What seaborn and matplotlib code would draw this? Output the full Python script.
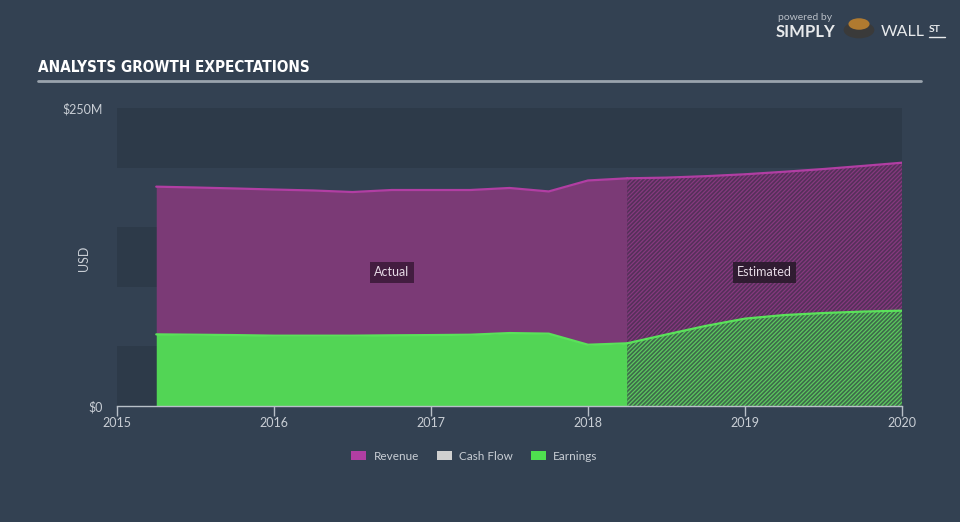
import numpy as np
import pandas as pd
import matplotlib
matplotlib.use("Agg")
import matplotlib.pyplot as plt
import seaborn as sns
from matplotlib.patches import Patch, Circle
from matplotlib.lines import Line2D
from matplotlib import font_manager

# ---------------- data (USD millions) ----------------
actual_dates = [2015.25, 2015.5, 2015.75, 2016.0, 2016.25, 2016.5, 2016.75,
                2017.0, 2017.25, 2017.5, 2017.75, 2018.0, 2018.25]
actual_revenue = [184.0, 183.3, 182.5, 181.6, 180.8, 179.5, 181.2,
                  181.2, 181.2, 182.9, 180.0, 189.2, 191.0]
actual_earnings = [60.1, 59.8, 59.5, 59.0, 59.0, 59.0, 59.3,
                   59.5, 59.8, 61.2, 60.7, 51.4, 52.6]

est_dates = [2018.25, 2018.5, 2018.75, 2019.0, 2019.25, 2019.5, 2019.75, 2020.0]
est_revenue = [191.0, 191.6, 192.8, 194.4, 196.5, 198.8, 201.4, 204.1]
est_earnings = [52.6, 60.0, 67.2, 73.3, 76.3, 78.0, 79.2, 80.0]

x_ticks = [2015, 2016, 2017, 2018, 2019, 2020]
x_tick_labels = ["2015", "2016", "2017", "2018", "2019", "2020"]
y_ticks = [0, 250]
y_tick_labels = ["$0", "$250M"]
band_edges = [0, 50, 100, 150, 200, 250]
legend_labels = ["Revenue", "Cash Flow", "Earnings"]

# ---------------- styling ----------------
BG = "#334152"
BAND = "#2d3a49"
REV_FILL = "#7b3a76"
REV_LINE = "#b13ea3"
EARN_FILL = "#52d555"
EARN_LINE = "#5ae25a"
CASH = "#d0d0d0"
TXT = "#c9ced5"

sns.set_theme(style="dark")
plt.rcParams["font.family"] = ["Lato", "DejaVu Sans"]
plt.rcParams["hatch.linewidth"] = 0.9

names = {f.name for f in font_manager.fontManager.ttflist}
title_family = ["DejaVu Sans"]
for cand in ["Liberation Sans Narrow", "DejaVu Sans Condensed"]:
    if cand in names:
        title_family = [cand, "DejaVu Sans"]
        break

actual_df = pd.DataFrame({"date": actual_dates, "revenue": actual_revenue,
                          "earnings": actual_earnings})
est_df = pd.DataFrame({"date": est_dates, "revenue": est_revenue,
                       "earnings": est_earnings})

fig = plt.figure(figsize=(9.6, 5.22), dpi=100, facecolor=BG)
ax = fig.add_axes([117 / 960, 1 - 406 / 522, (902 - 117) / 960, (406 - 108) / 522])
ax.set_facecolor(BG)

# alternating bands
for i in range(len(band_edges) - 1):
    if i % 2 == 0:
        ax.axhspan(band_edges[i], band_edges[i + 1], color=BAND, lw=0, zorder=0)

# actual areas
ax.fill_between(actual_df["date"], 0, actual_df["earnings"], color=EARN_FILL, lw=0, zorder=2)
ax.fill_between(actual_df["date"], actual_df["earnings"], actual_df["revenue"],
                color=REV_FILL, lw=0, zorder=2)

# estimated areas (hatched)
ax.fill_between(est_df["date"], est_df["earnings"], est_df["revenue"],
                facecolor="#55305a", edgecolor="#86397f", hatch="////////", lw=0, zorder=2)
ax.fill_between(est_df["date"], 0, est_df["earnings"],
                facecolor="#3e6a4b", edgecolor="#5cc95e", hatch="////////", lw=0, zorder=2)

# lines
sns.lineplot(data=actual_df, x="date", y="revenue", color=REV_LINE, lw=1.6, ax=ax, zorder=3)
sns.lineplot(data=est_df, x="date", y="revenue", color=REV_LINE, lw=1.6, ax=ax, zorder=3)
sns.lineplot(data=actual_df, x="date", y="earnings", color=EARN_LINE, lw=1.6, ax=ax, zorder=3)
sns.lineplot(data=est_df, x="date", y="earnings", color=EARN_LINE, lw=1.6, ax=ax, zorder=3)

ax.set_xlim(2015, 2020)
ax.set_ylim(0, 250)
ax.set_xlabel("")
ax.set_ylabel("")

ax.set_xticks(x_ticks)
ax.set_xticklabels(x_tick_labels)
ax.set_yticks(y_ticks)
ax.set_yticklabels(y_tick_labels)
ax.tick_params(axis="x", direction="out", length=7, width=1, color="#b8c0c8",
               colors=TXT, labelsize=9, pad=1, bottom=True)
ax.tick_params(axis="y", length=0, colors=TXT, labelsize=9, pad=10.5)
ax.grid(False)
for s in ["top", "right", "left"]:
    ax.spines[s].set_visible(False)
ax.spines["bottom"].set_color("#b8c0c8")
ax.spines["bottom"].set_linewidth(1)
ax.spines["bottom"].set_zorder(5)

# Actual / Estimated labels
ax.text((actual_dates[0] + actual_dates[-1]) / 2, 112, "Actual", color="#e6dbe6",
        fontsize=9, ha="center", va="center", zorder=6,
        bbox=dict(boxstyle="square,pad=0.35", fc="#3d1a3b", ec="none", alpha=0.9))
ax.text((est_dates[0] + est_dates[-1]) / 2, 112, "Estimated", color="#e6dbe6",
        fontsize=9, ha="center", va="center", zorder=6,
        bbox=dict(boxstyle="square,pad=0.35", fc="#2a1a2c", ec="none", alpha=0.9))

# USD axis label
fig.text(84 / 960, 1 - 258 / 522, "USD", rotation=90, color=TXT, fontsize=9,
         ha="center", va="center")

# title and underline
fig.text(38 / 960, 1 - 68 / 522, "ANALYSTS GROWTH EXPECTATIONS", color="white",
         fontsize=11, fontweight="bold", fontstretch="condensed", ha="left", va="center",
         family=title_family)
fig.add_artist(Line2D([38 / 960, 921 / 960], [1 - 81 / 522, 1 - 81 / 522],
                      color="#9aa3ad", lw=2))

# legend
handles = [Patch(facecolor=REV_LINE, edgecolor="none"),
           Patch(facecolor=CASH, edgecolor="none"),
           Patch(facecolor="#4fe04f", edgecolor="none")]
leg = fig.legend(handles, legend_labels, loc="center", bbox_to_anchor=(0.494, 1 - 456 / 522),
                 ncol=3, frameon=False, fontsize=8.5, handlelength=1.3, handleheight=0.9,
                 columnspacing=1.5, handletextpad=0.6)
for t in leg.get_texts():
    t.set_color(TXT)

# logo
fig.text(778 / 960, 1 - 18 / 522, "powered by", color="#b8bec6", fontsize=7.5,
         ha="left", va="center")
fig.text(776 / 960, 1 - 32 / 522, "SIMPLY", color="#e8eaec", fontsize=12,
         fontweight="bold", ha="left", va="center")
fig.text(881 / 960, 1 - 32 / 522, "WALL", color="#e8eaec", fontsize=11.5,
         ha="left", va="center")
fig.text(929 / 960, 1 - 30 / 522, "ST", color="#e8eaec", fontsize=7.5,
         fontweight="bold", ha="left", va="center")
fig.add_artist(Line2D([929 / 960, 945 / 960], [1 - 37 / 522, 1 - 37 / 522],
                      color="#e8eaec", lw=1))
fig.add_artist(Circle((859 / 960, 1 - 30 / 522), 0.016, transform=fig.transFigure,
                      facecolor="#3a3a3a", edgecolor="none"))
fig.add_artist(Circle((859 / 960, 1 - 24 / 522), 0.011, transform=fig.transFigure,
                      facecolor="#b07a30", edgecolor="none"))

fig.savefig("out.png", dpi=100, facecolor=BG)
